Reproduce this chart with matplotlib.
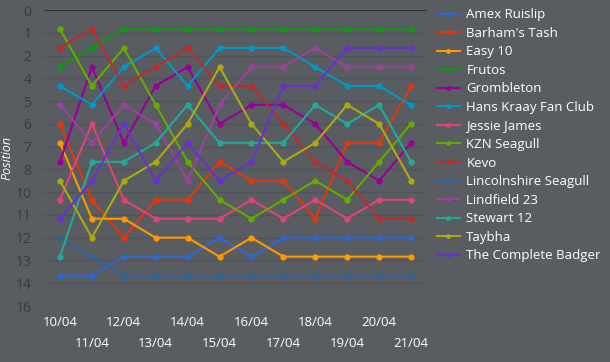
import matplotlib.pyplot as plt
from matplotlib.lines import Line2D

dates = ["10/04", "11/04", "12/04", "13/04", "14/04", "15/04",
         "16/04", "17/04", "18/04", "19/04", "20/04", "21/04"]

teams = ["Amex Ruislip", "Barham's Tash", "Easy 10", "Frutos", "Grombleton",
         "Hans Kraay Fan Club", "Jessie James", "KZN Seagull", "Kevo",
         "Lincolnshire Seagull", "Lindfield 23", "Stewart 12", "Taybha",
         "The Complete Badger"]

amex_ruislip = [14, 14, 13, 13, 13, 12, 13, 12, 12, 12, 12, 12]
barhams_tash = [6, 10, 12, 10, 10, 8, 9, 9, 11, 7, 7, 4]
easy_10 = [7, 11, 11, 12, 12, 13, 12, 13, 13, 13, 13, 13]
frutos = [3, 2, 1, 1, 1, 1, 1, 1, 1, 1, 1, 1]
grombleton = [8, 3, 7, 4, 3, 6, 5, 5, 6, 8, 9, 7]
hans_kraay = [4, 5, 3, 2, 4, 2, 2, 2, 3, 4, 4, 5]
jessie_james = [10, 6, 10, 11, 11, 11, 10, 11, 10, 11, 10, 10]
kzn_seagull = [1, 4, 2, 5, 8, 10, 11, 10, 9, 10, 8, 6]
kevo = [2, 1, 4, 3, 2, 4, 4, 6, 8, 9, 11, 11]
lincolnshire = [12, 13, 14, 14, 14, 14, 14, 14, 14, 14, 14, 14]
lindfield_23 = [5, 7, 5, 6, 9, 5, 3, 3, 2, 3, 3, 3]
stewart_12 = [13, 8, 8, 7, 5, 7, 7, 7, 5, 6, 5, 8]
taybha = [9, 12, 9, 8, 6, 3, 6, 8, 7, 5, 6, 9]
complete_badger = [11, 9, 6, 9, 7, 9, 8, 4, 4, 2, 2, 2]

series = [amex_ruislip, barhams_tash, easy_10, frutos, grombleton, hans_kraay,
          jessie_james, kzn_seagull, kevo, lincolnshire, lindfield_23,
          stewart_12, taybha, complete_badger]

colors = ["#3366cc", "#dc3912", "#ff9900", "#109618", "#990099", "#0099c6",
          "#dd4477", "#66aa00", "#b82e2e", "#316395", "#994499", "#22aa99",
          "#aaaa11", "#6633cc"]

bg = "#595c61"
plt.rcParams["font.family"] = ["Open Sans", "DejaVu Sans"]

fig = plt.figure(figsize=(6.1, 3.62), dpi=100, facecolor=bg)
ax = fig.add_axes([44 / 610, 1 - 306 / 362, 383 / 610, 296 / 362])
ax.set_facecolor(bg)

x = list(range(len(dates)))
for name, vals, col in zip(teams, series, colors):
    ax.plot(x, vals, color=col, lw=1.5, marker="o", ms=3.5, label=name,
            solid_joinstyle="round")

# y ticks are evenly spaced at 1.2 but shown rounded
yt = [i * 1.2 for i in range(14)]
ax.set_yticks(yt)
ax.set_yticklabels([str(int(round(v))) for v in yt], color="#3a3b3e", fontsize=10)
ax.set_ylim(15.6, 0)
ax.set_xlim(-0.5, len(dates) - 0.5)

ax.set_xticks(x)
ax.set_xticklabels(dates, color="white", fontsize=9.5)
for i, t in enumerate(ax.xaxis.get_major_ticks()):
    t.set_pad(7 if i % 2 == 0 else 22)
ax.tick_params(axis="both", length=0)
ax.tick_params(axis="y", pad=9)

ax.grid(axis="y", color="#505357", lw=1)
ax.set_axisbelow(True)
for s in ax.spines.values():
    s.set_visible(False)
ax.axhline(0, color="#333436", lw=1.5, zorder=1)

ax.set_ylabel("Position", color="white", fontstyle="italic", fontsize=9)
ax.yaxis.set_label_coords(-0.08, 0.5)

handles = [Line2D([0], [0], color=c, lw=1.5, marker="o", ms=2.5) for c in colors]
fig.legend(handles, teams, loc="upper left", bbox_to_anchor=(432 / 610, 1 - 3 / 362),
           frameon=False, fontsize=9.5, labelcolor="white", handlelength=1.7,
           handletextpad=0.5, labelspacing=0.42, borderaxespad=0)

fig.savefig("out.png", dpi=100, facecolor=bg)
